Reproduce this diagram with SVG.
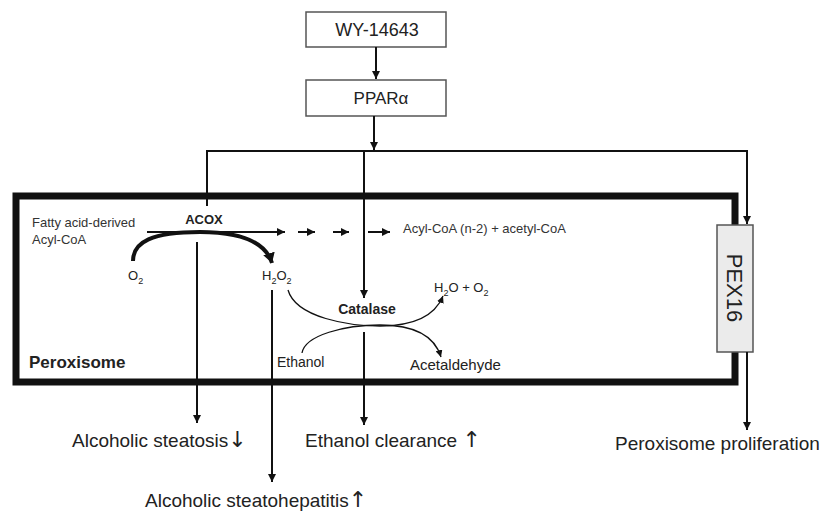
<svg xmlns="http://www.w3.org/2000/svg" width="833" height="512" viewBox="0 0 833 512">
<style>
text{font-family:"Liberation Sans",Arial,sans-serif;fill:#222}
.box{fill:#fff;stroke:#555;stroke-width:1.5}
.ln{fill:none;stroke:#111;stroke-width:2}
.thin{fill:none;stroke:#111;stroke-width:1.3}
.sm{font-size:13px;fill:#333}
.big{font-size:19px}
.arr{font-size:22px;font-family:"DejaVu Sans",sans-serif}
</style>
<defs>
<marker id="ah" markerUnits="userSpaceOnUse" markerWidth="10" markerHeight="8" refX="8" refY="4" orient="auto">
<path d="M0,0 L8,4 L0,8 Z" fill="#111"/>
</marker>
<marker id="ahs" markerUnits="userSpaceOnUse" markerWidth="8" markerHeight="7" refX="7" refY="3.5" orient="auto">
<path d="M0,0 L7,3.5 L0,7 Z" fill="#111"/>
</marker>
<marker id="ahb" markerUnits="userSpaceOnUse" markerWidth="12" markerHeight="12" refX="10" refY="6" orient="auto">
<path d="M0,0 L10,6 L0,12 Z" fill="#111"/>
</marker>
</defs>

<g id="peroxisome">
<rect x="16" y="196" width="719" height="186" fill="none" stroke="#111" stroke-width="7"/>
<text x="29" y="368" font-size="17" font-weight="bold">Peroxisome</text>
</g>

<g id="wy14643">
<rect class="box" x="306" y="12" width="140" height="35"/>
<text x="377" y="36" font-size="18" text-anchor="middle">WY-14643</text>
</g>

<g id="ppara">
<rect class="box" x="306" y="80" width="140" height="36"/>
<text x="381" y="104" font-size="17" text-anchor="middle">PPARα</text>
</g>

<g id="pex16">
<rect x="717" y="225" width="36" height="127" fill="#ebebeb" stroke="#555" stroke-width="1.5"/>
<text x="0" y="0" font-size="22" text-anchor="middle" transform="translate(727,288) rotate(90)">PEX16</text>
</g>

<g id="acox">
<text x="204" y="224" font-size="13" font-weight="bold" text-anchor="middle">ACOX</text>
</g>

<g id="catalase">
<text x="367" y="314" font-size="14" font-weight="bold" text-anchor="middle">Catalase</text>
</g>

<g id="labels">
<text class="sm" x="32" y="227">Fatty acid-derived</text>
<text class="sm" x="32" y="244">Acyl-CoA</text>
<text class="sm" x="403" y="233">Acyl-CoA (n-2) + acetyl-CoA</text>
<text x="128" y="280" font-size="13">O<tspan font-size="9" dy="4">2</tspan></text>
<text x="262" y="280" font-size="13">H<tspan font-size="9" dy="4">2</tspan><tspan dy="-4">O</tspan><tspan font-size="9" dy="4">2</tspan></text>
<text x="434" y="292" font-size="13">H<tspan font-size="9" dy="4">2</tspan><tspan dy="-4">O + O</tspan><tspan font-size="9" dy="4">2</tspan></text>
<text x="277" y="367" font-size="14">Ethanol</text>
<text x="410" y="370" font-size="15">Acetaldehyde</text>
<text class="big" x="72" y="447">Alcoholic steatosis<tspan class="arr">↓</tspan></text>
<text class="big" x="305" y="447">Ethanol clearance <tspan class="arr">↑</tspan></text>
<text class="big" x="145" y="507">Alcoholic steatohepatitis<tspan class="arr">↑</tspan></text>
<text class="big" x="615" y="450">Peroxisome proliferation</text>
</g>

<g id="connectors">
<line class="ln" x1="376" y1="47" x2="376" y2="79" marker-end="url(#ah)"/>
<line class="ln" x1="374" y1="116" x2="374" y2="150" marker-end="url(#ah)"/>
<polyline class="ln" points="207,206 207,151 747,151 747,224" marker-end="url(#ah)"/>
<line class="ln" x1="364" y1="151" x2="364" y2="298" marker-end="url(#ah)"/>
<line class="ln" x1="147" y1="232" x2="285" y2="232" marker-end="url(#ah)"/>
<line class="ln" x1="298" y1="232" x2="315" y2="232" marker-end="url(#ah)"/>
<line class="ln" x1="333" y1="232" x2="349" y2="232" marker-end="url(#ah)"/>
<line class="ln" x1="368" y1="232" x2="390" y2="232" marker-end="url(#ah)"/>
<path d="M133,261 C133,242 152,232 200,232 C245,232 266,244 272,263" fill="none" stroke="#111" stroke-width="4" marker-end="url(#ahb)"/>
<line class="ln" x1="197" y1="242" x2="197" y2="423" marker-end="url(#ah)"/>
<line class="ln" x1="272" y1="290" x2="272" y2="482" marker-end="url(#ah)"/>
<line class="ln" x1="364" y1="332" x2="364" y2="425" marker-end="url(#ah)"/>
<line class="ln" x1="747" y1="352" x2="747" y2="430" marker-end="url(#ah)"/>
<path class="thin" d="M288,290 C296,318 350,326 380,326 C410,326 434,318 443,296" marker-end="url(#ahs)"/>
<path class="thin" d="M302,353 C305,335 345,325 380,325 C410,325 434,334 441,357" marker-end="url(#ahs)"/>
</g>
</svg>
